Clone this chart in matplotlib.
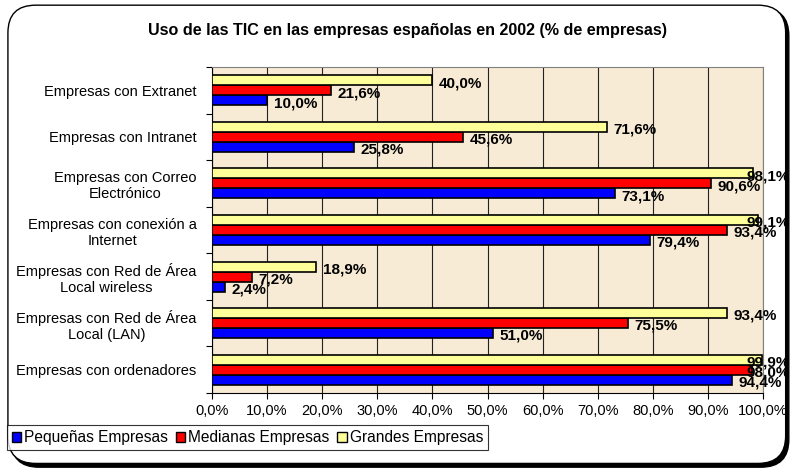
import numpy as np
import matplotlib
matplotlib.use("Agg")
import matplotlib.pyplot as plt
from matplotlib.patches import FancyBboxPatch, Patch

plt.rcParams['font.family'] = ['Liberation Sans', 'DejaVu Sans']

# datos (de abajo hacia arriba)
categorias = ["Empresas con ordenadores",
              "Empresas con Red de Área\nLocal (LAN)",
              "Empresas con Red de Área\nLocal wireless",
              "Empresas con conexión a\nInternet",
              "Empresas con Correo\nElectrónico",
              "Empresas con Intranet",
              "Empresas con Extranet"]
pequenas = [94.4, 51.0, 2.4, 79.4, 73.1, 25.8, 10.0]
medianas = [98.0, 75.5, 7.2, 93.4, 90.6, 45.6, 21.6]
grandes = [99.9, 93.4, 18.9, 99.1, 98.1, 71.6, 40.0]
series = ["Pequeñas Empresas", "Medianas Empresas", "Grandes Empresas"]
colores = ["#0000FF", "#FF0000", "#FFFF99"]

fig = plt.figure(figsize=(7.92, 4.70), dpi=100)

# marco redondeado con sombra
sombra = FancyBboxPatch((0.014, 0.006), 0.982, 0.977, boxstyle="round,pad=0,rounding_size=0.035",
                        transform=fig.transFigure, facecolor="black", edgecolor="black",
                        mutation_aspect=792/470, zorder=0)
marco = FancyBboxPatch((0.010, 0.014), 0.982, 0.975, boxstyle="round,pad=0,rounding_size=0.035",
                       transform=fig.transFigure, facecolor="white", edgecolor="black",
                       linewidth=1, mutation_aspect=792/470, zorder=1)
fig.patches.extend([sombra, marco])

ax = fig.add_axes([0.2677, 0.1638, 0.9634 - 0.2677, 0.8574 - 0.1638])
ax.set_zorder(2)
ax.set_facecolor("#F7EBD5")

y = np.arange(len(categorias))
h = 0.215
for i, (vals, col) in enumerate(zip([pequenas, medianas, grandes], colores)):
    pos = y + (i - 1) * h
    ax.barh(pos, vals, height=h, color=col, edgecolor="black", linewidth=1.2, zorder=3, label=series[i])
    for p, v in zip(pos, vals):
        # como en Excel, la etiqueta no sale del gráfico
        ax.text(min(v + 1.2, 97.0), p - 0.06, f"{v:.1f}%".replace(".", ","), va="center", ha="left",
                fontsize=11, fontweight="bold", zorder=4, clip_on=False)

ax.set_xlim(0, 100)
ax.set_ylim(-0.5, len(categorias) - 0.5)
ax.set_xticks(np.arange(0, 101, 10))
ax.set_xticklabels([f"{t:.1f}%".replace(".", ",") for t in np.arange(0, 101, 10)], fontsize=10.5)
ax.xaxis.grid(True, color="#222222", linewidth=0.8, zorder=1)
ax.set_axisbelow(True)

ax.set_yticks(np.arange(-0.5, len(categorias), 1))
ax.set_yticklabels([])
ax.set_yticks(y, minor=True)
ax.set_yticklabels(categorias, minor=True, fontsize=10.5, multialignment="center")
ax.tick_params(axis="y", which="minor", length=0, pad=11)
ax.tick_params(axis="y", which="major", length=4, direction="out")
ax.tick_params(axis="x", length=4, direction="out", pad=4)
for s in ax.spines.values():
    s.set_color("#808080")
ax.spines["left"].set_color("black")
ax.spines["bottom"].set_color("black")

fig.text(0.515, 0.936, "Uso de las TIC en las empresas españolas en 2002 (% de empresas)",
         ha="center", va="center", fontsize=11.6, fontweight="bold")

handles = [Patch(facecolor=c, edgecolor="black") for c in colores]
leg = fig.legend(handles, series, loc="lower left", bbox_to_anchor=(0.009, 0.043), ncol=3,
                 fontsize=11.2, frameon=True, fancybox=False, edgecolor="black",
                 handlelength=0.6, handleheight=0.6, handletextpad=0.2, columnspacing=0.5,
                 borderpad=0.3, borderaxespad=0)
leg.get_frame().set_linewidth(0.8)
leg.set_zorder(3)

fig.savefig("out.png", dpi=100)
